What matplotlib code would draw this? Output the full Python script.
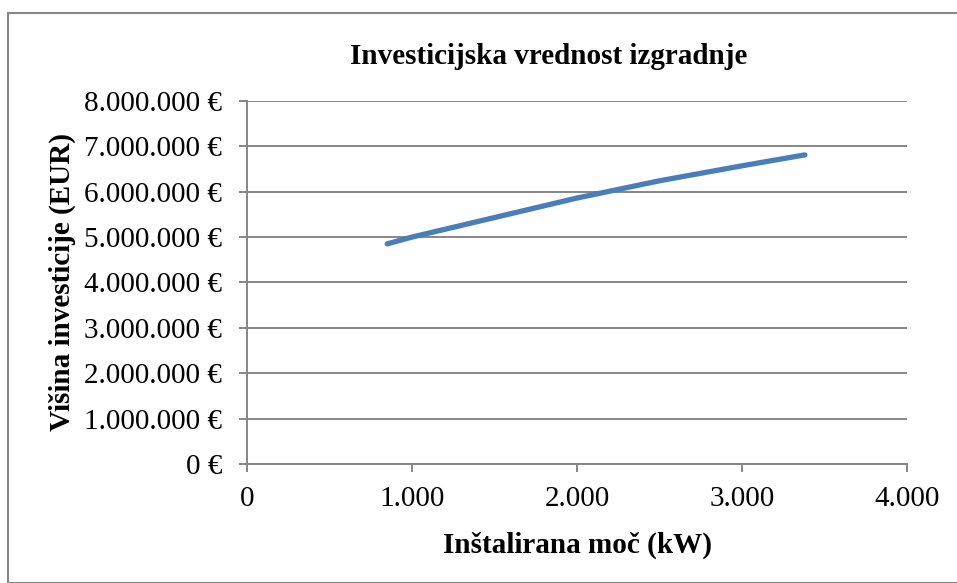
import matplotlib
matplotlib.use('Agg')
import matplotlib.pyplot as plt
from matplotlib.patches import Rectangle
from matplotlib.ticker import FuncFormatter, MultipleLocator

# installed power (kW) and investment (EUR)
power_kw = [850, 1000, 1500, 2000, 2500, 3000, 3380]
investment_eur = [4850000, 5000000, 5430000, 5860000, 6240000, 6570000, 6810000]

title = "Investicijska vrednost izgradnje"
x_label = "Inštalirana moč (kW)"
y_label = "Višina investicije (EUR)"

gridColour = "#868686"
lineColour = "#4A7EBB"


def thousands(v):
    return "{:,.0f}".format(v).replace(",", ".")


plt.rcParams['font.family'] = ['Liberation Serif', 'DejaVu Serif']

fig = plt.figure(figsize=(9.57, 5.83), dpi=100)
ax = fig.add_axes([0.258, 0.204, 0.690, 0.623])

ax.plot(power_kw, investment_eur, color=lineColour, linewidth=3.8,
        solid_capstyle='round', zorder=3)

ax.set_xlim(0, 4000)
ax.set_ylim(0, 8000000)
ax.xaxis.set_major_locator(MultipleLocator(1000))
ax.yaxis.set_major_locator(MultipleLocator(1000000))
ax.xaxis.set_major_formatter(FuncFormatter(lambda v, p: thousands(v)))
ax.yaxis.set_major_formatter(FuncFormatter(lambda v, p: thousands(v) + " €"))

ax.grid(axis='y', color=gridColour, linewidth=1.4)
ax.set_axisbelow(True)
for side in ('top', 'right'):
    ax.spines[side].set_visible(False)
for side in ('left', 'bottom'):
    ax.spines[side].set_color(gridColour)
    ax.spines[side].set_linewidth(1.4)

ax.tick_params(axis='both', colors=gridColour, length=6, width=1.4,
               labelsize=21, labelcolor='black')
ax.tick_params(axis='y', pad=12)
ax.tick_params(axis='x', pad=10)

fig.text(549 / 957, 1 - 57 / 583, title, fontsize=21, fontweight='bold',
         ha='center', va='center')
ax.set_xlabel(x_label, fontsize=21, fontweight='bold', labelpad=14)
ax.set_ylabel(y_label, fontsize=21, fontweight='bold', labelpad=6)

# chart area border
fig.patches.append(Rectangle((8 / 957, 0), 1.0, 1 - 13 / 583, transform=fig.transFigure,
                             fill=False, edgecolor=gridColour, linewidth=1.5))

fig.savefig('out.png', dpi=100)
